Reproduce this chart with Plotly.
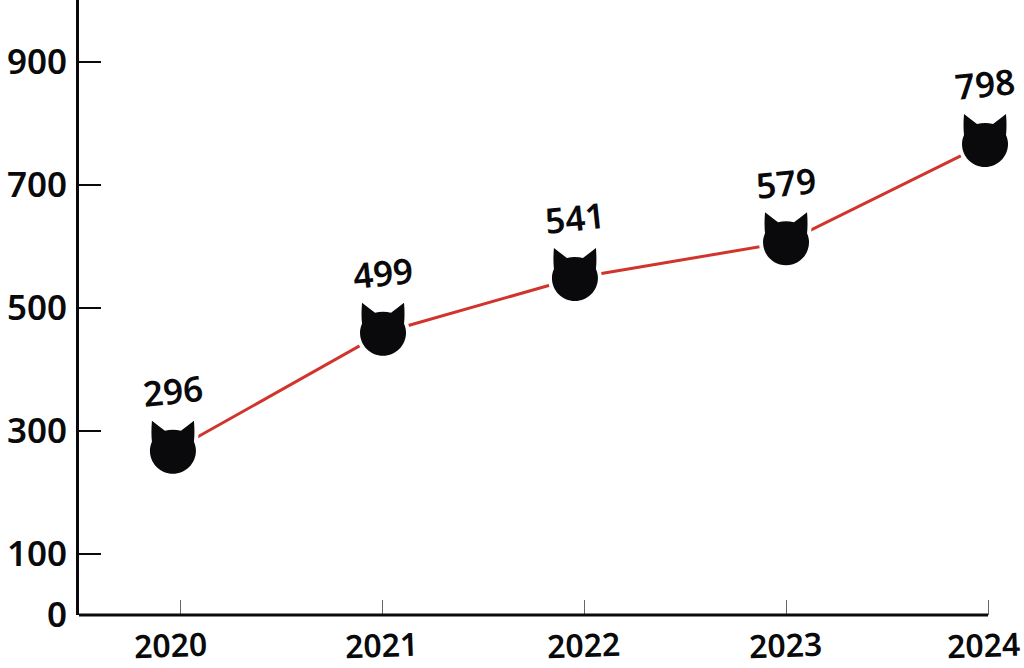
import plotly.graph_objects as go

years = [2020, 2021, 2022, 2023, 2024]
point_x = [2019.965, 2021.005, 2021.955, 2023.0, 2023.985]
plotted_y = [267, 459, 548, 606, 766]
value_labels = ["296", "499", "541", "579", "798"]
y_ticks = [0, 100, 300, 500, 700, 900]

INK = "#0a0a0c"
RED = "#d0342c"
FONT = dict(family="Noto Sans", size=35, color=INK, weight=600)
YEAR_FONT = dict(family="Noto Sans", size=32, color=INK, weight=600)
YEAR_SHIFT = [-10, -1, -1, -1, -5]

# cat head, pixel coordinates relative to the anchor point (y up)
CAT = ("M -21,30 Q -14,24.5 -8,20 Q 0,22 8,20 Q 14,24.5 21,30 Q 22,18 21,9 "
       "C 22.3,6 23,3 23,0 C 23,-12.7 12.7,-23 0,-23 "
       "C -12.7,-23 -23,-12.7 -23,0 C -23,3 -22.3,6 -21,9 Q -22,18 -21,30 Z")

fig = go.Figure(go.Scatter(x=point_x, y=plotted_y, mode="lines",
                           line=dict(color=RED, width=3), hoverinfo="skip"))

shapes = [dict(type="line", xref="x", yref="paper", x0=2019.5, x1=2024, y0=0, y1=0,
               line=dict(color=INK, width=3), layer="above")]
for x, y in zip(point_x, plotted_y):
    shapes.append(dict(type="path", xref="x", yref="y", xsizemode="pixel", ysizemode="pixel",
                       xanchor=x, yanchor=y, path=CAT, fillcolor="white",
                       line=dict(color="white", width=8), layer="above"))
    shapes.append(dict(type="path", xref="x", yref="y", xsizemode="pixel", ysizemode="pixel",
                       xanchor=x, yanchor=y, path=CAT, fillcolor=INK,
                       line=dict(width=0), layer="above"))

annotations = [dict(x=x, y=y, text=t, showarrow=False, yshift=60, textangle=-6,
                    xanchor="center", yanchor="middle", font=FONT)
               for x, y, t in zip(point_x, plotted_y, value_labels)]
annotations += [dict(x=yr, y=0, yref="paper", text=str(yr), showarrow=False, xshift=dx, yshift=-29,
                     textangle=-2, xanchor="center", yanchor="middle", font=YEAR_FONT)
                for yr, dx in zip(years, YEAR_SHIFT)]

fig.update_layout(
    width=1024, height=668, margin=dict(l=79, r=0, t=0, b=53),
    paper_bgcolor="white", plot_bgcolor="white", showlegend=False,
    shapes=shapes, annotations=annotations, font=FONT,
    xaxis=dict(range=[2019.5, 2024.178], tickvals=years, showticklabels=False,
               ticks="inside", ticklen=15, tickwidth=1, tickcolor="#666666",
               showgrid=False, zeroline=False, showline=False),
    yaxis=dict(range=[0, 1000], tickvals=y_ticks, ticks="inside", ticklen=22, tickwidth=2,
               tickcolor=INK, showgrid=False, zeroline=False, showline=True,
               linecolor=INK, linewidth=3, ticklabelstandoff=2, tickfont=FONT),
)

fig.write_html("out.html", post_script="document.body.style.margin='0';",
               config=dict(displayModeBar=False))
